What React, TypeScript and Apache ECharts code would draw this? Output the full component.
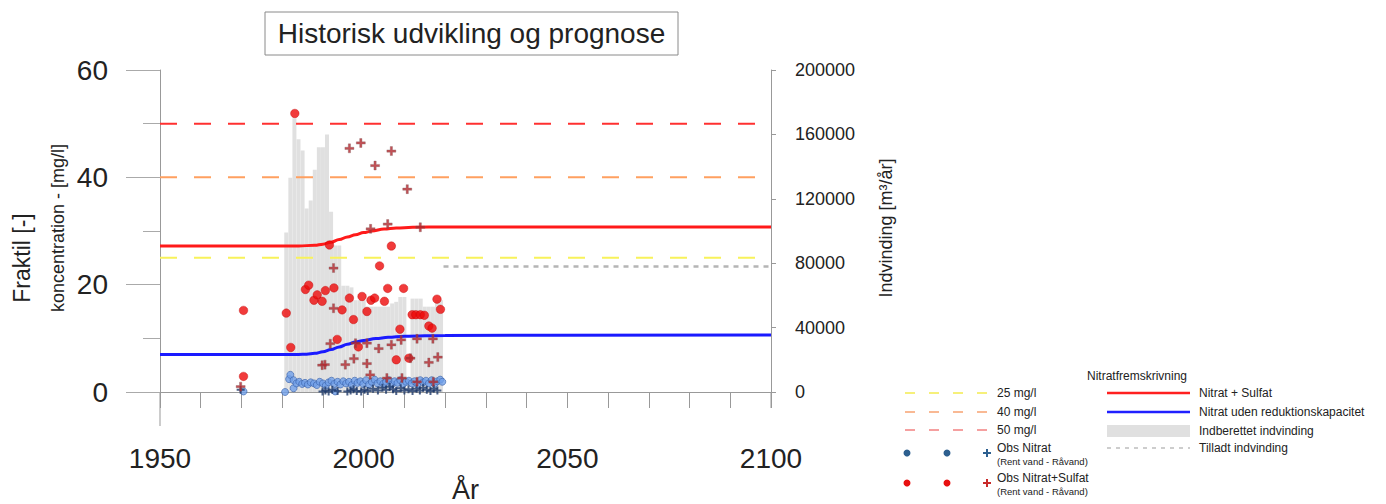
import React, { useEffect, useRef } from "react";
import * as echarts from "echarts";

// ---- data ----
const barYears = [1981,1982,1983,1984,1985,1986,1987,1988,1989,1990,1991,1992,1993,1994,1995,1996,1997,1998,1999,2000,2001,2002,2003,2004,2005,2006,2007,2008,2009,2010,2012,2013,2014,2015,2016,2017,2018,2019];
const barValues = [99000,133000,170000,157000,150000,114000,119000,138000,152000,152000,160000,112000,91000,91000,66000,66000,65000,57000,57000,57000,53000,53000,53000,53000,53000,53000,55000,56000,59000,59000,58000,58000,58000,53000,53000,53000,57000,57000];

const redLineYears = [1950,1984,1988,1990,1992,1994,1996,1998,2000,2002,2005,2008,2012,2020,2100];
const redLineValues = [27.2,27.2,27.35,27.55,27.9,28.4,28.9,29.3,29.7,30.0,30.35,30.55,30.7,30.75,30.75];
const blueLineYears = [1950,1984,1986,1988,1990,1992,1994,1996,1998,2000,2003,2006,2010,2020,2100];
const blueLineValues = [7.0,7.0,7.05,7.2,7.5,7.9,8.4,8.9,9.3,9.6,9.95,10.2,10.4,10.55,10.6];

const thresholdValues = [25, 40, 50];
const allowedYears = [2019.6, 2100];
const allowedValue = 78000;

const redCircles = [[1970.5,15.2],[1970.5,2.9],[1981,14.7],[1982.1,8.3],[1983.1,51.9],[1985.7,19.1],[1986.5,19.9],[1987.8,17.1],[1988.6,18.1],[1989.8,16.9],[1990.6,18.9],[1991.6,27.4],[1992.7,19.4],[1993.5,9.8],[1994.7,15.3],[1996.5,17.5],[1997.5,13.5],[1998.7,8.4],[1999.6,17.8],[2000.8,15.0],[2001.8,17.1],[2002.7,17.5],[2003.9,23.5],[2005.1,16.9],[2005.9,19.3],[2006.8,27.2],[2008.0,6.0],[2008.9,11.7],[2009.8,19.3],[2011.1,6.3],[2011.9,14.4],[2012.8,14.4],[2013.9,14.4],[2014.9,14.3],[2016.0,12.3],[2016.8,11.9],[2018.0,17.3],[2018.85,15.4]];
const redCrosses = [[1969.8,1.0],[1989.8,5.0],[1990.5,5.1],[1991.8,9.0],[1992.6,15.6],[1992.6,23.1],[1995.5,5.1],[1996.5,45.4],[1997.6,6.2],[1998.0,9.1],[1999.3,46.4],[2000.8,9.1],[2000.8,5.3],[2001.6,3.2],[2001.7,30.4],[2002.8,42.2],[2003.7,8.1],[2005.7,2.6],[2005.9,31.3],[2006.8,44.9],[2006.8,8.8],[2009.2,9.7],[2009.4,2.6],[2010.7,37.8],[2011.5,6.3],[2013.1,1.9],[2013.1,9.9],[2013.9,30.7],[2016.0,5.5],[2017.1,1.9],[2017.0,9.9],[2018.2,6.5]];
const blueCircles = [[1970.5,0.1],[1980.7,0.0],[1981.7,2.4],[1982.0,3.2],[1982.8,2.2],[1982.8,0.7],[1983.5,1.6],[1984.2,1.9],[1984.9,1.5],[1985.6,1.7],[1986.3,1.4],[1987.0,1.8],[1987.8,1.6],[1988.5,1.3],[1989.2,1.9],[1990.0,1.6],[1990.7,1.2],[1991.4,1.8],[1992.1,2.1],[1992.8,1.5],[1993.0,0.1],[1993.6,1.9],[1994.3,1.4],[1995.0,2.0],[1995.7,1.6],[1996.4,1.9],[1997.1,1.3],[1997.8,2.1],[1998.5,1.7],[1999.2,2.0],[1999.9,1.5],[2000.6,2.2],[2001.3,1.4],[2002.0,1.9],[2002.7,2.3],[2003.4,1.6],[2004.1,2.0],[2004.8,1.5],[2005.5,1.9],[2006.2,2.2],[2006.9,1.4],[2007.6,2.0],[2008.3,1.7],[2009.0,2.2],[2009.7,1.5],[2010.4,1.9],[2011.1,2.1],[2011.8,1.6],[2012.5,2.0],[2013.2,1.4],[2013.9,2.2],[2014.6,1.8],[2015.3,2.1],[2016.0,1.6],[2016.7,2.2],[2017.4,1.5],[2018.1,2.0],[2018.8,2.3],[2019.3,1.9]];
const blueCrosses = [[1969.8,0.4],[1989.9,0.1],[1990.6,0.3],[1991.4,0.1],[1992.3,0.4],[1993.6,0.2],[1996.0,0.1],[1996.8,0.3],[1997.5,0.5],[1998.3,0.2],[1999.4,0.1],[2000.2,0.4],[2001.0,0.2],[2002.3,0.6],[2003.5,0.3],[2004.6,0.8],[2005.5,0.4],[2006.4,1.0],[2007.2,0.5],[2008.0,0.2],[2009.1,0.7],[2010.0,0.3],[2011.0,0.5],[2012.0,0.2],[2013.0,0.6],[2013.8,0.3],[2014.6,0.8],[2015.5,0.4],[2016.4,0.2],[2017.2,0.6],[2018.1,0.3]];

const titleText = "Historisk udvikling og prognose";
const legendTitle = "Nitratfremskrivning";
const thresholdLabels = ["25 mg/l", "40 mg/l", "50 mg/l"];
const lineLabels = ["Nitrat + Sulfat", "Nitrat uden reduktionskapacitet", "Indberettet indvinding", "Tilladt indvinding"];
const obsLabels = ["Obs Nitrat", "Obs Nitrat+Sulfat"];
const obsSub = "(Rent vand - Råvand)";

const FONT = "Liberation Sans, Arial, sans-serif";
const PLUS = "path://M3,0H5V3H8V5H5V8H3V5H0V3H3Z";

const thresholdColors = ["#f8f25a", "#ffa060", "#ff3030"];
const legendThresholdColors = ["#f6f07a", "#f9b994", "#f5a0a0"];

function plus(cx: number, cy: number, color: string) {
  return [
    { type: "line", shape: { x1: cx - 4, y1: cy, x2: cx + 4, y2: cy }, style: { stroke: color, lineWidth: 2 } },
    { type: "line", shape: { x1: cx, y1: cy - 4, x2: cx, y2: cy + 4 }, style: { stroke: color, lineWidth: 2 } },
  ];
}

export default function App() {
  const ref = useRef<HTMLDivElement>(null);
  useEffect(() => {
    const chart = echarts.init(ref.current!, null, { renderer: "svg" });
    const txt = (x: number, y: number, text: string, size: number, align = "left", extra: any = {}) => ({
      type: "text",
      x,
      y,
      ...extra,
      style: { text, font: `${size}px ${FONT}`, fill: "#222", textAlign: align, textVerticalAlign: "middle" },
    });

    const graphic: any[] = [
      { type: "rect", shape: { x: 265, y: 12, width: 413, height: 43 }, style: { fill: "#fff", stroke: "#8a8a8a", lineWidth: 1 } },
      txt(471.5, 33.5, titleText, 28, "center"),
      // axis line extensions below zero
      { type: "line", shape: { x1: 160, y1: 392, x2: 160, y2: 426 }, style: { stroke: "#999", lineWidth: 1 } },
      { type: "line", shape: { x1: 771, y1: 392, x2: 771, y2: 408 }, style: { stroke: "#999", lineWidth: 1 } },
      txt(22, 258, "Fraktil [-]", 23, "center", { rotation: Math.PI / 2 }),
      txt(58, 228, "koncentration - [mg/l]", 18, "center", { rotation: Math.PI / 2 }),
      txt(886, 228, "Indvinding [m³/år]", 18, "center", { rotation: Math.PI / 2 }),
      // legend
      txt(1137, 376, legendTitle, 12, "center"),
    ];
    const rowsY = [393, 412, 430];
    thresholdLabels.forEach((label, i) => {
      graphic.push({ type: "line", shape: { x1: 905, y1: rowsY[i], x2: 991, y2: rowsY[i] }, style: { stroke: legendThresholdColors[i], lineWidth: 2, lineDash: [10, 14] } });
      graphic.push(txt(997, rowsY[i], label, 12));
    });
    const obsY = [453, 483];
    const obsCol = ["#2d5f8f", "#e81010"];
    const obsPlus = ["#2d5f8f", "#c82a2a"];
    obsLabels.forEach((label, i) => {
      graphic.push({ type: "circle", shape: { cx: 907, cy: obsY[i], r: 3.5 }, style: { fill: obsCol[i] } });
      graphic.push({ type: "circle", shape: { cx: 947, cy: obsY[i], r: 3.5 }, style: { fill: obsCol[i] } });
      graphic.push(...plus(987, obsY[i], obsPlus[i]));
      graphic.push(txt(997, obsY[i] - 5, label, 12));
      graphic.push(txt(997, obsY[i] + 8, obsSub, 9.5));
    });
    const rY = [393, 412, 431, 448];
    graphic.push({ type: "line", shape: { x1: 1107, y1: rY[0], x2: 1190, y2: rY[0] }, style: { stroke: "#ff2020", lineWidth: 2.5 } });
    graphic.push({ type: "line", shape: { x1: 1107, y1: rY[1], x2: 1190, y2: rY[1] }, style: { stroke: "#2020ff", lineWidth: 2.5 } });
    graphic.push({ type: "rect", shape: { x: 1107, y: 425, width: 83, height: 12 }, style: { fill: "#e0e0e0" } });
    graphic.push({ type: "line", shape: { x1: 1107, y1: rY[3], x2: 1190, y2: rY[3] }, style: { stroke: "#bdbdbd", lineWidth: 1.5, lineDash: [4, 5] } });
    lineLabels.forEach((label, i) => graphic.push(txt(1199, rY[i], label, 12)));

    const series: any[] = [
      {
        type: "bar",
        yAxisIndex: 1,
        data: barYears.map((y, i) => [y, barValues[i]]),
        barWidth: 4,
        itemStyle: { color: "#e0e0e0" },
        z: 1,
        silent: true,
      },
      ...thresholdValues.map((v, i) => ({
        type: "line",
        data: [[1950, v], [2100, v]],
        symbol: "none",
        lineStyle: { color: thresholdColors[i], width: 2, type: [17, 17] },
        z: 2,
      })),
      {
        type: "line",
        yAxisIndex: 1,
        data: allowedYears.map((y) => [y, allowedValue]),
        symbol: "none",
        lineStyle: { color: "#b5b5b5", width: 2.5, type: [5, 5] },
        z: 2,
      },
      {
        type: "line",
        data: redLineYears.map((y, i) => [y, redLineValues[i]]),
        symbol: "none",
        smooth: 0.4,
        smoothMonotone: "x",
        lineStyle: { color: "#ff1a1a", width: 3 },
        z: 3,
      },
      {
        type: "line",
        data: blueLineYears.map((y, i) => [y, blueLineValues[i]]),
        symbol: "none",
        smooth: 0.4,
        smoothMonotone: "x",
        lineStyle: { color: "#1a1aff", width: 3 },
        z: 3,
      },
      {
        type: "scatter",
        data: blueCircles,
        symbol: "circle",
        symbolSize: 7,
        itemStyle: { color: "#6f9fe8", borderColor: "#3a62a8", borderWidth: 0.8 },
        z: 4,
      },
      {
        type: "scatter",
        data: blueCrosses,
        symbol: PLUS,
        symbolSize: 8,
        itemStyle: { color: "#1e3a6a" },
        z: 5,
      },
      {
        type: "scatter",
        data: redCircles,
        symbol: "circle",
        symbolSize: 8.5,
        itemStyle: { color: "#ee0a0a", borderColor: "#c00000", borderWidth: 0.5 },
        z: 6,
      },
      {
        type: "scatter",
        data: redCrosses,
        symbol: PLUS,
        symbolSize: 9,
        itemStyle: { color: "#b3262c", borderColor: "#7a5a5a", borderWidth: 0.4 },
        z: 7,
      },
    ];

    chart.setOption({
      animation: false,
      backgroundColor: "#fff",
      grid: { left: 160, right: 615, top: 70, bottom: 112, containLabel: false, outerBoundsMode: "none" },
      xAxis: {
        type: "value",
        min: 1950,
        max: 2100,
        interval: 10,
        splitLine: { show: false },
        axisLine: { show: true, onZero: true, lineStyle: { color: "#999", width: 1 } },
        axisTick: { show: true, length: 16, lineStyle: { color: "#999" } },
        axisLabel: {
          formatter: (v: number) => (v % 50 === 0 ? String(v) : ""),
          fontSize: 28,
          fontFamily: FONT,
          color: "#222",
          margin: 52,
        },
        name: "År",
        nameLocation: "middle",
        nameGap: 76,
        nameTextStyle: { fontSize: 27, fontFamily: FONT, color: "#222" },
      },
      yAxis: [
        {
          type: "value",
          min: 0,
          max: 60,
          interval: 20,
          position: "left",
          splitLine: { show: false },
          axisLine: { show: true, lineStyle: { color: "#999", width: 1 } },
          axisTick: { show: true, length: 34, lineStyle: { color: "#aaa" } },
          minorTick: { show: true, splitNumber: 2, length: 17, lineStyle: { color: "#aaa" } },
          axisLabel: { fontSize: 28, fontFamily: FONT, color: "#222", margin: 52 },
        },
        {
          type: "value",
          min: 0,
          max: 200000,
          interval: 40000,
          position: "right",
          splitLine: { show: false },
          axisLine: { show: true, lineStyle: { color: "#999", width: 1 } },
          axisTick: { show: true, length: 5, lineStyle: { color: "#999" } },
          axisLabel: { fontSize: 18, fontFamily: FONT, color: "#222", margin: 24, formatter: (v: number) => String(v) },
        },
      ],
      series,
      graphic,
    });
    return () => chart.dispose();
  }, []);
  return <div ref={ref} style={{ position: "fixed", left: 0, top: 0, width: 1386, height: 504 }} />;
}
